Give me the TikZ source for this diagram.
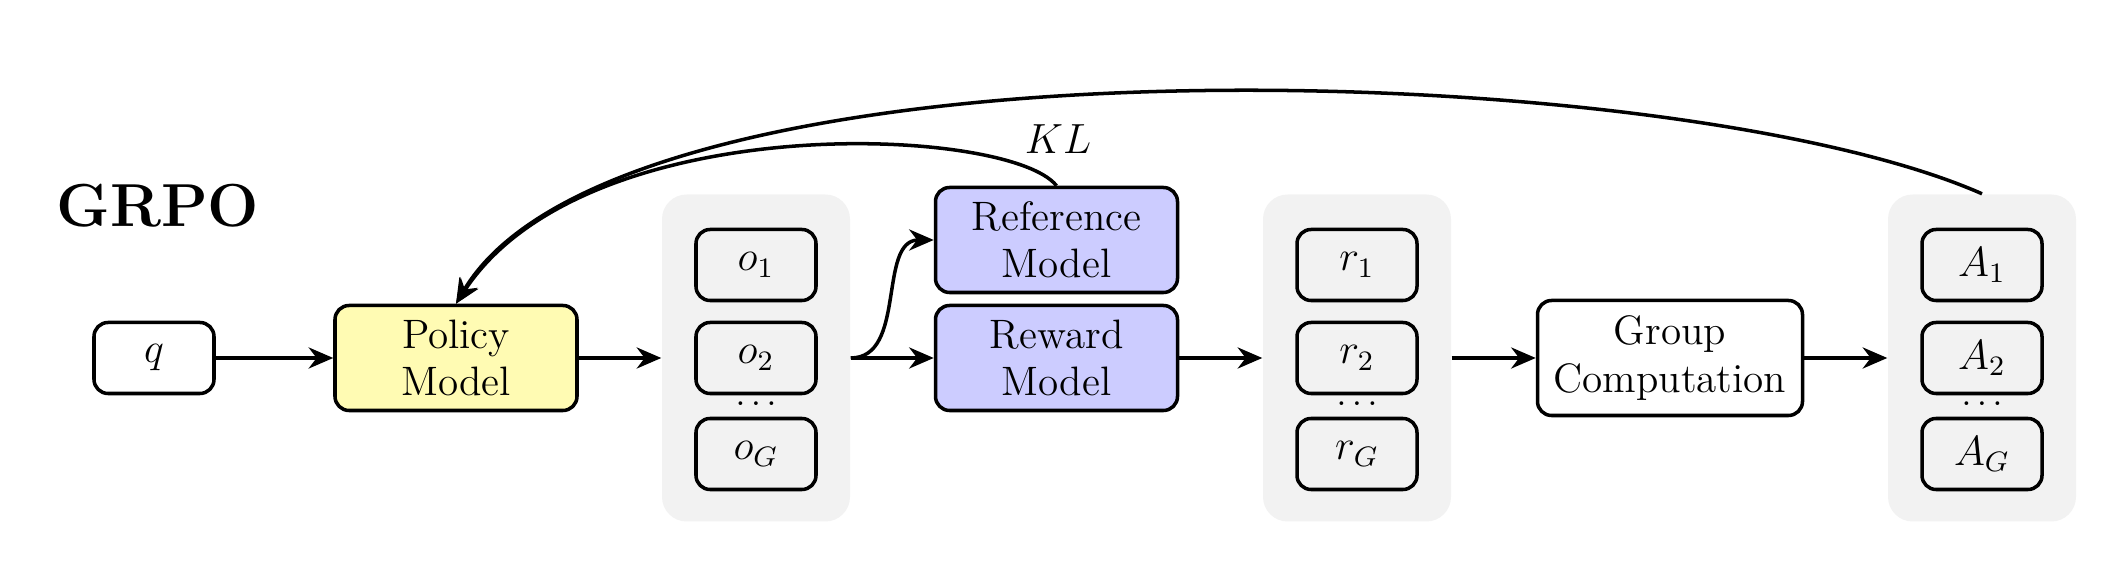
\documentclass[tikz,border=0pt]{standalone}
\usetikzlibrary{arrows.meta}
\tikzset{
  box/.style={draw, line width=1pt, rounded corners=4pt, minimum width=1.2cm, minimum height=0.71cm,
    font=\fontsize{11.7}{13.4}\selectfont},
  model/.style={box, align=center, inner sep=2pt, minimum width=2.42cm, minimum height=1.05cm},
  stack/.style={fill=gray!10, rounded corners=7pt, minimum width=1.88cm, minimum height=3.27cm},
  flow/.style={line width=1pt, -{Stealth[length=7pt,width=6pt]}}
}
\begin{document}
\begin{tikzpicture}
    \useasboundingbox (0,0) rectangle (21.18,5.66);
    %% title
    \node[anchor=base west, font=\LARGE\bfseries] (title) at (0.44,3.39) {GRPO};
    %% input and policy
    \node[box] (q) at (1.54,2.08) {$q$};
    \node[model, fill=yellow!30] (policy) at (4.56,2.08) {Policy\\Model};
    %% outputs
    \node[stack] (ogrp) at (7.56,2.08) {};
    \node[box] (o1) at (7.56,3.01) {$o_1$};
    \node[box] (o2) at (7.56,2.08) {$o_2$};
    \node[box] (oG) at (7.56,1.12) {$o_G$};
    \node[anchor=base, inner sep=0pt] (odots) at (7.56,1.60) {$\dots$};
    %% models
    \node[model, fill=blue!20] (ref) at (10.565,3.26) {Reference\\Model};
    \node[model, fill=blue!20] (reward) at (10.565,2.08) {Reward\\Model};
    %% rewards
    \node[stack] (rgrp) at (13.57,2.08) {};
    \node[box] (r1) at (13.57,3.01) {$r_1$};
    \node[box] (r2) at (13.57,2.08) {$r_2$};
    \node[box] (rG) at (13.57,1.12) {$r_G$};
    \node[anchor=base, inner sep=0pt] (rdots) at (13.57,1.60) {$\dots$};
    %% group computation
    \node[model, minimum width=2.65cm, minimum height=1.15cm] (group) at (16.70,2.08) {Group\\Computation};
    %% advantages
    \node[stack] (agrp) at (19.82,2.08) {};
    \node[box] (A1) at (19.82,3.01) {$A_1$};
    \node[box] (A2) at (19.82,2.08) {$A_2$};
    \node[box] (AG) at (19.82,1.12) {$A_G$};
    \node[anchor=base, inner sep=0pt] (adots) at (19.82,1.60) {$\dots$};
    \node[font=\fontsize{11.7}{13.4}\selectfont] (kl) at (10.58,4.27) {$KL$};
    %% arrows
    \draw[flow] (q) -- (policy);
    \draw[flow] (policy) -- (ogrp);
    \draw[flow] (ogrp) -- (reward);
    \draw[flow] (ogrp.east) to[out=0,in=180] (ref.west);
    \draw[flow] (reward) -- (rgrp);
    \draw[flow] (rgrp) -- (group);
    \draw[flow] (group) -- (agrp);
    %% feedback
    \draw[flow] (ref.north) .. controls (10.1,4.4) and (5.85,4.6) .. (policy.north);
    \draw[flow] (agrp.north) .. controls (16.7,5.1) and (6.2,5.4) .. (policy.north);
\end{tikzpicture}
\end{document}
